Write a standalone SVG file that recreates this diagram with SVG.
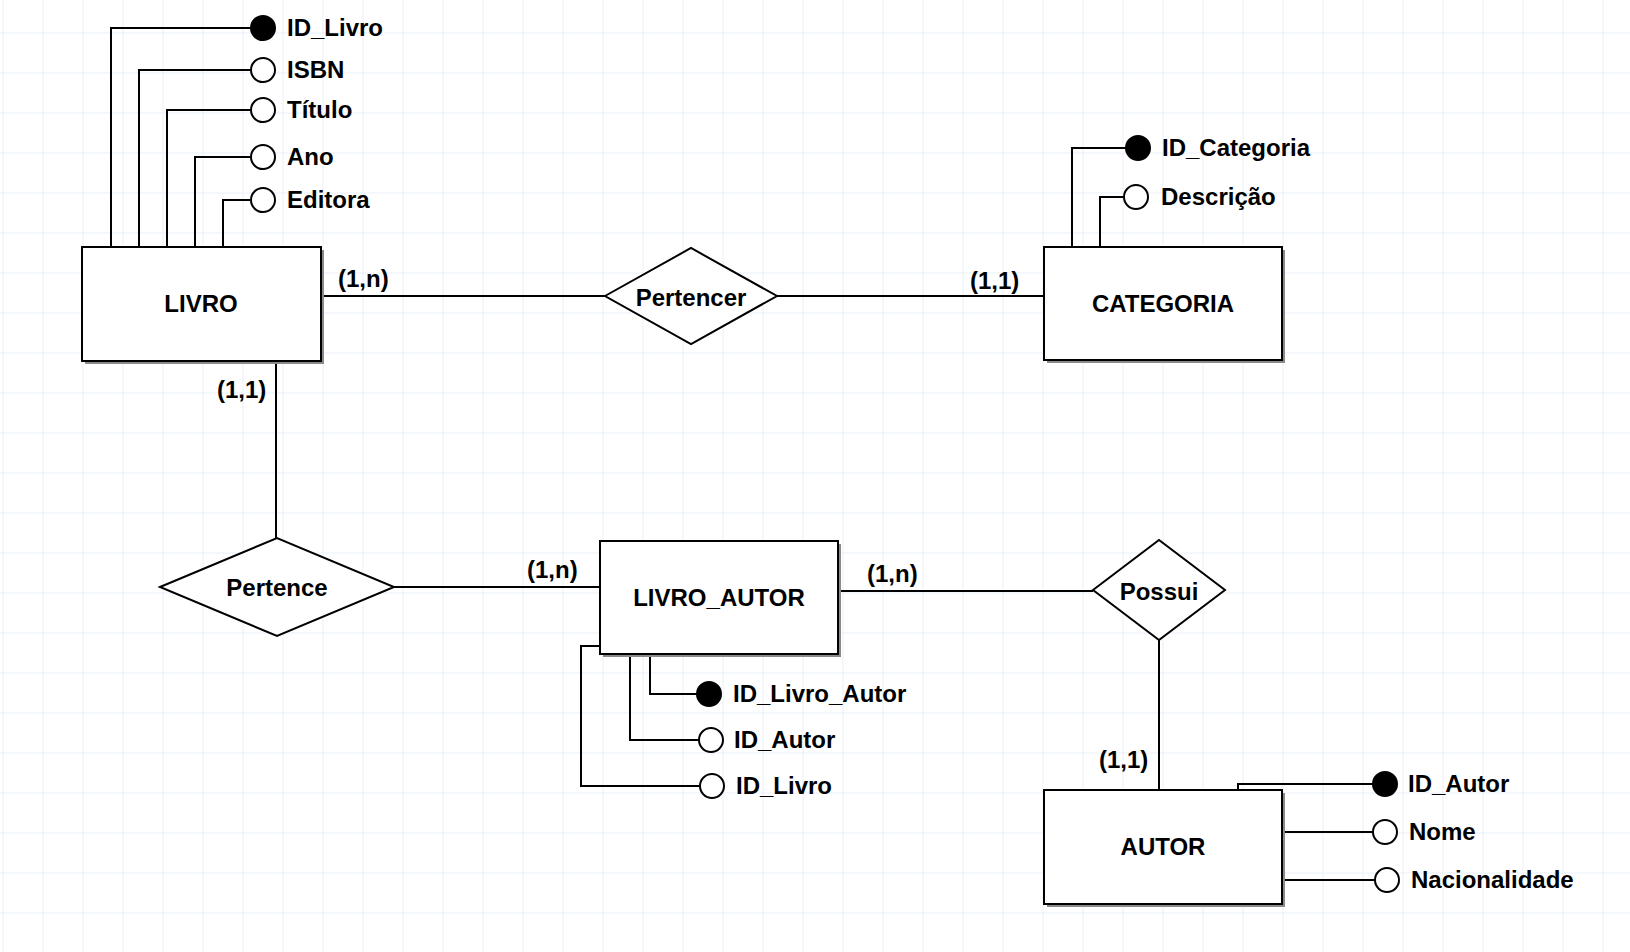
<svg xmlns="http://www.w3.org/2000/svg" width="1630" height="952" viewBox="0 0 1630 952">
<defs>
<pattern id="grid" x="2.5" y="32.5" width="40" height="40" patternUnits="userSpaceOnUse">
<path d="M0 0 H40 M0 0 V40" fill="none" stroke="#e9f0f9" stroke-width="2"/>
</pattern>
</defs>
<style>
text{font-family:"Liberation Sans",Arial,sans-serif;font-weight:bold;font-size:24px;fill:#000}
.c{text-anchor:middle}
.ent{fill:#fff;stroke:#000;stroke-width:2}
.sh{fill:#8a8a8a}
.rel{fill:#fff;stroke:#000;stroke-width:2}
.ln{fill:none;stroke:#000;stroke-width:2}
.att{fill:#fff;stroke:#000;stroke-width:2}
.key{fill:#000;stroke:#000;stroke-width:2}
</style>
<rect width="1630" height="952" fill="#fff"/>
<rect width="1630" height="952" fill="url(#grid)"/>

<g id="connectors">
<path class="ln" d="M321 296 H605"/>
<path class="ln" d="M777 296 H1044"/>
<path class="ln" d="M276 361 V538"/>
<path class="ln" d="M394 587 H600"/>
<path class="ln" d="M838 591 H1093"/>
<path class="ln" d="M1159 640 V790"/>
<text x="338" y="287">(1,n)</text>
<text x="970" y="289">(1,1)</text>
<text x="217" y="398">(1,1)</text>
<text x="527" y="578">(1,n)</text>
<text x="867" y="582">(1,n)</text>
<text x="1099" y="768">(1,1)</text>
</g>

<g id="livro">
<path class="ln" d="M111 247 V28 H250 M139 247 V70 H250 M167 247 V110 H250 M195 247 V157 H250 M223 247 V200 H250"/>
<rect class="sh" x="85" y="250" width="239" height="114"/>
<rect class="ent" x="82" y="247" width="239" height="114"/>
<text class="c" x="201" y="312">LIVRO</text>
<circle class="key" cx="263" cy="28" r="12"/>
<circle class="att" cx="263" cy="70" r="12"/>
<circle class="att" cx="263" cy="110" r="12"/>
<circle class="att" cx="263" cy="157" r="12"/>
<circle class="att" cx="263" cy="200" r="12"/>
<text x="287" y="36">ID_Livro</text>
<text x="287" y="78">ISBN</text>
<text x="287" y="118">Título</text>
<text x="287" y="165">Ano</text>
<text x="287" y="208">Editora</text>
</g>

<g id="categoria">
<path class="ln" d="M1072 247 V148 H1126 M1100 247 V197 H1124"/>
<rect class="sh" x="1047" y="250" width="238" height="113"/>
<rect class="ent" x="1044" y="247" width="238" height="113"/>
<text class="c" x="1163" y="312">CATEGORIA</text>
<circle class="key" cx="1138" cy="148" r="12"/>
<circle class="att" cx="1136" cy="197" r="12"/>
<text x="1162" y="156">ID_Categoria</text>
<text x="1161" y="205">Descrição</text>
</g>

<g id="pertencer">
<polygon class="rel" points="605,296 691,248 777,296 691,344"/>
<text class="c" x="691" y="306">Pertencer</text>
</g>

<g id="pertence">
<polygon class="rel" points="160,587 277,538 394,587 277,636"/>
<text class="c" x="277" y="596">Pertence</text>
</g>

<g id="livro_autor">
<path class="ln" d="M650 654 V694 H697 M630 654 V740 H699 M600 646 H581 V786 H700"/>
<rect class="sh" x="603" y="544" width="238" height="113"/>
<rect class="ent" x="600" y="541" width="238" height="113"/>
<text class="c" x="719" y="606">LIVRO_AUTOR</text>
<circle class="key" cx="709" cy="694" r="12"/>
<circle class="att" cx="711" cy="740" r="12"/>
<circle class="att" cx="712" cy="786" r="12"/>
<text x="733" y="702">ID_Livro_Autor</text>
<text x="734" y="748">ID_Autor</text>
<text x="736" y="794">ID_Livro</text>
</g>

<g id="possui">
<polygon class="rel" points="1093,590 1159,540 1225,590 1159,640"/>
<text class="c" x="1159" y="600">Possui</text>
</g>

<g id="autor">
<path class="ln" d="M1238 790 V784 H1373 M1282 832 H1373 M1282 880 H1375"/>
<rect class="sh" x="1047" y="793" width="238" height="114"/>
<rect class="ent" x="1044" y="790" width="238" height="114"/>
<text class="c" x="1163" y="855">AUTOR</text>
<circle class="key" cx="1385" cy="784" r="12"/>
<circle class="att" cx="1385" cy="832" r="12"/>
<circle class="att" cx="1387" cy="880" r="12"/>
<text x="1408" y="792">ID_Autor</text>
<text x="1409" y="840">Nome</text>
<text x="1411" y="888">Nacionalidade</text>
</g>
</svg>
